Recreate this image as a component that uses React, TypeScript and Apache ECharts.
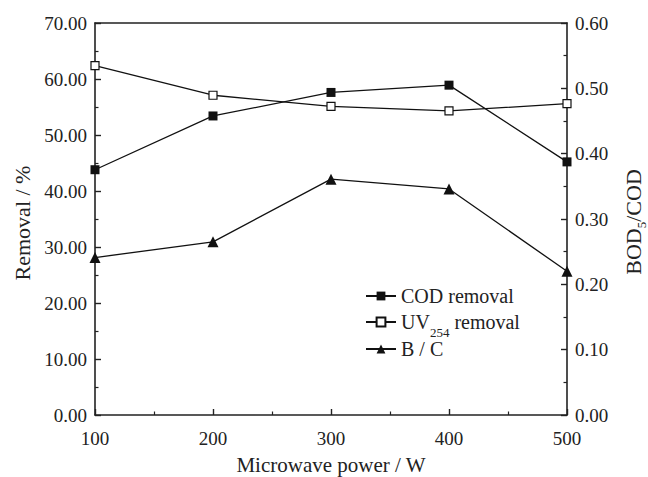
import React, { useEffect, useRef } from "react";
import * as echarts from "echarts";

const powers = [100, 200, 300, 400, 500];
const codRemoval = [43.8, 53.4, 57.6, 58.9, 45.2];
const uvRemoval = [62.4, 57.1, 55.1, 54.3, 55.6];
const bcRatio = [0.241, 0.265, 0.361, 0.346, 0.22];
const seriesNames = ["COD removal", "UV254 removal", "B / C"];
const xTitle = "Microwave power / W";
const yLeftTitle = "Removal / %";

export default function App() {
  const ref = useRef<HTMLDivElement>(null);
  useEffect(() => {
    const chart = echarts.init(ref.current!, null, { renderer: "svg" });
    const font = "Liberation Serif";
    const ink = "#222";
    const mark = "#111";
    const axisLine = { show: true, onZero: false, lineStyle: { color: ink, width: 1.6 } };
    const tick = { show: true, inside: true, length: 6, lineStyle: { color: ink, width: 1.4 } };
    const minor = { show: true, splitNumber: 2, length: 3.5, lineStyle: { color: ink, width: 1.2 } };
    const label = { fontSize: 19, fontFamily: font, color: ink };
    const nameStyle = { fontSize: 22, fontFamily: font, color: ink };
    const legendBase = {
      orient: "vertical",
      left: 365,
      itemWidth: 30,
      itemHeight: 11,
      padding: 0,
      selectedMode: false,
      textStyle: { fontSize: 20, fontFamily: font, color: ink, lineHeight: 18 },
    };
    chart.setOption({
      animation: false,
      backgroundColor: "#fff",
      grid: { left: 95, right: 81, top: 23, bottom: 62, outerBoundsMode: "none", containLabel: false },
      legend: [
        { ...legendBase, top: 286, data: [seriesNames[0]] },
        {
          ...legendBase,
          top: 305.5,
          data: [seriesNames[1]],
          formatter: () => "{m|UV}{sub|254}{m| removal}",
          textStyle: {
            fontSize: 20,
            fontFamily: font,
            color: ink,
            rich: {
              m: { fontSize: 20, fontFamily: font, color: ink, lineHeight: 20 },
              sub: { fontSize: 13, fontFamily: font, color: ink, lineHeight: 13, padding: [20, 0, 0, 0] },
            },
          },
        },
        { ...legendBase, top: 339, data: [seriesNames[2]] },
      ],
      xAxis: [
        {
          type: "value",
          min: 100,
          max: 500,
          interval: 100,
          position: "bottom",
          axisLine,
          axisTick: tick,
          minorTick: minor,
          splitLine: { show: false },
          minorSplitLine: { show: false },
          axisLabel: { ...label, margin: 14 },
          name: xTitle,
          nameLocation: "middle",
          nameGap: 39,
          nameTextStyle: { ...nameStyle, fontSize: 21 },
        },
        {
          type: "value",
          min: 100,
          max: 500,
          position: "top",
          axisLine,
          axisTick: { show: false },
          axisLabel: { show: false },
          splitLine: { show: false },
        },
      ],
      yAxis: [
        {
          type: "value",
          min: 0,
          max: 70,
          interval: 10,
          position: "left",
          axisLine,
          axisTick: tick,
          minorTick: minor,
          splitLine: { show: false },
          minorSplitLine: { show: false },
          axisLabel: { ...label, margin: 8, formatter: (v: number) => v.toFixed(2) },
          name: yLeftTitle,
          nameLocation: "middle",
          nameRotate: 90,
          nameGap: 62,
          nameTextStyle: { ...nameStyle, padding: [0, 8, 0, 0] },
        },
        {
          type: "value",
          min: 0,
          max: 0.6,
          interval: 0.1,
          position: "right",
          axisLine,
          axisTick: tick,
          minorTick: minor,
          splitLine: { show: false },
          minorSplitLine: { show: false },
          axisLabel: { ...label, margin: 8, formatter: (v: number) => v.toFixed(2) },
          name: "BOD{sub|5}/COD",
          nameLocation: "middle",
          nameRotate: 90,
          nameGap: 40,
          nameTextStyle: {
            ...nameStyle,
            padding: [0, 6, 0, 0],
            rich: {
              sub: { fontSize: 13, fontFamily: font, color: ink, lineHeight: 13, padding: [16, 0, 0, 0] },
            },
          },
        },
      ],
      series: [
        {
          name: seriesNames[0],
          type: "line",
          xAxisIndex: 0,
          yAxisIndex: 0,
          clip: false,
          data: powers.map((p, i) => [p, codRemoval[i]]),
          symbol: "rect",
          symbolSize: 9,
          itemStyle: { color: mark },
          lineStyle: { color: mark, width: 1.3 },
        },
        {
          name: seriesNames[1],
          type: "line",
          xAxisIndex: 0,
          yAxisIndex: 0,
          clip: false,
          data: powers.map((p, i) => [p, uvRemoval[i]]),
          symbol: "rect",
          symbolSize: 8,
          itemStyle: { color: "#fff", borderColor: mark, borderWidth: 1.2 },
          lineStyle: { color: mark, width: 1.3 },
        },
        {
          name: seriesNames[2],
          type: "line",
          xAxisIndex: 0,
          yAxisIndex: 1,
          clip: false,
          data: powers.map((p, i) => [p, bcRatio[i]]),
          symbol: "triangle",
          symbolSize: 11,
          itemStyle: { color: mark },
          lineStyle: { color: mark, width: 1.3 },
        },
      ],
    });
    return () => chart.dispose();
  }, []);
  return (
    <div
      ref={ref}
      style={{ position: "fixed", left: 0, top: 0, width: 648, height: 477, background: "#fff" }}
    />
  );
}
